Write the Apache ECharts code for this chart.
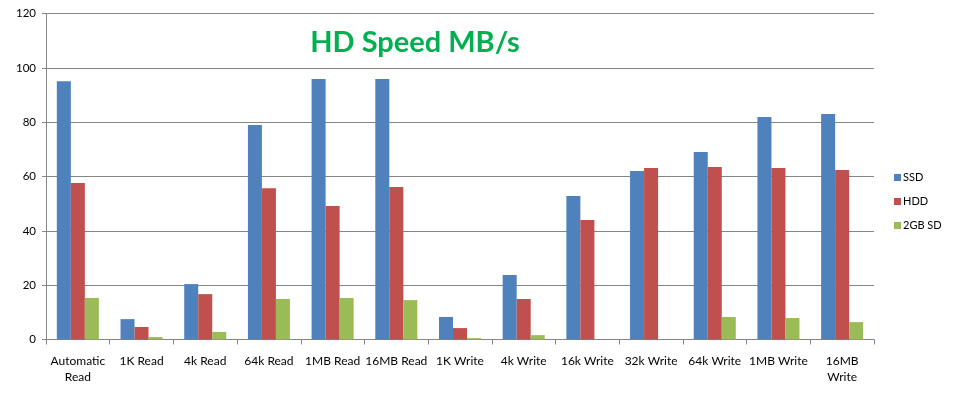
<!DOCTYPE html>
<html><head><meta charset="utf-8">
<script src="https://cdn.jsdelivr.net/npm/echarts@6/dist/echarts.min.js"></script>
<style>html,body{margin:0;padding:0;background:#fff}#c{width:955px;height:396px}</style>
</head><body><div id="c"></div>
<script>
var categories = ['Automatic\nRead','1K Read','4k Read','64k Read','1MB Read','16MB Read','1K Write','4k Write','16k Write','32k Write','64k Write','1MB Write','16MB\nWrite'];
var ssd   = [95.1, 7.5, 20.4, 79.0, 95.9, 95.9, 8.3, 23.7, 52.8, 62.0, 69.0, 81.9, 83.0];
var hdd   = [57.6, 4.6, 16.7, 55.7, 49.1, 56.1, 4.2, 14.9, 44.0, 63.1, 63.5, 63.1, 62.4];
var sd2gb = [15.3, 0.9, 2.8, 14.9, 15.3, 14.5, 0.5, 1.6, 0, 0, 8.3, 7.9, 6.4];
var seriesNames = ['SSD','HDD','2GB SD'];
var yTicks = {min:0, max:120, interval:20};
var titleText = 'HD Speed MB/s';

var font = 'Lato, "Open Sans", sans-serif';
var chart = echarts.init(document.getElementById('c'));
function bar(name, data, color){
  return {name:name, type:'bar', data:data, barGap:'0%', barCategoryGap:'34%',
    itemStyle:{color:color}, emphasis:{disabled:true}};
}
chart.setOption({
  animation:false,
  textStyle:{fontFamily:font},
  title:{text:titleText, left:410, top:23, textAlign:'center',
    textStyle:{color:'#00B050', fontSize:29, fontWeight:'bold', fontFamily:font}},
  grid:{left:46, right:81, top:13.5, bottom:56.5, containLabel:false},
  legend:{orient:'vertical', left:889, top:167, itemWidth:7, itemHeight:7, itemGap:13,
    icon:'rect', textStyle:{fontSize:11, color:'#000', padding:[0,0,0,-3]}, data:seriesNames},
  xAxis:{type:'category', data:categories,
    axisLine:{lineStyle:{color:'#868686'}},
    axisTick:{show:true, length:5, inside:false, lineStyle:{color:'#868686'}},
    axisLabel:{color:'#000', fontSize:12, margin:14, lineHeight:16, interval:0}},
  yAxis:{type:'value', min:yTicks.min, max:yTicks.max, interval:yTicks.interval,
    axisLine:{show:true, lineStyle:{color:'#868686'}},
    axisTick:{show:true, length:4, lineStyle:{color:'#868686'}},
    splitLine:{lineStyle:{color:'#868686'}},
    axisLabel:{color:'#000', fontSize:11.5, margin:10}},
  series:[bar(seriesNames[0], ssd, '#4F81BD'), bar(seriesNames[1], hdd, '#C0504D'), bar(seriesNames[2], sd2gb, '#9BBB59')]
});
</script></body></html>
